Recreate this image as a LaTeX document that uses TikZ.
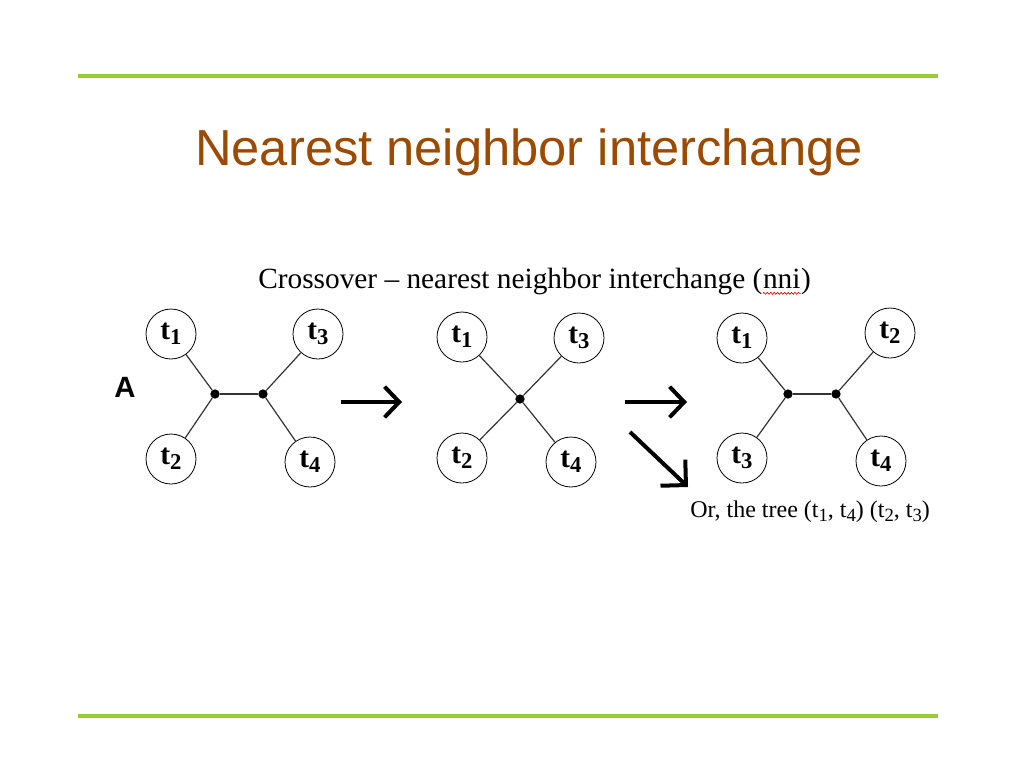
\documentclass[tikz,border=0pt]{standalone}
\usepackage{fontspec}
\setmainfont{Liberation Serif}
\newfontfamily\arialfont{Liberation Sans}
\usepackage{tikz}
\usetikzlibrary{arrows.meta,decorations.pathmorphing}
\definecolor{slidegreen}{HTML}{99CC33}
\definecolor{slidebrown}{HTML}{9C4A00}
\newcommand\tlab[1]{\textbf{t\raisebox{-0.18em}{\fontsize{17}{17}\selectfont #1}}}
\newcommand\tsub[1]{\raisebox{-0.2em}{\fontsize{14}{14}\selectfont #1}}

\tikzset{
  leaf/.style={draw, circle, minimum size=37.5pt, inner sep=0pt,
    line width=0.6pt, font=\fontsize{22}{22}\selectfont},
  joint/.style={circle, fill=black, minimum size=7pt, inner sep=0pt},
  branch/.style={line width=0.9pt, black!80},
  bigarrow/.style={line width=3pt, -{Straight Barb[length=11pt, width=23pt]}},
  downarrow/.style={line width=3pt, -{Straight Barb[length=13.5pt, width=27pt]}},
  rule/.style={slidegreen, line width=2.4pt},
}

\begin{document}
\begin{tikzpicture}[x=0.75pt, y=-0.75pt]
  \useasboundingbox (0,0) rectangle (1024,768);
  \draw[rule] (78,76) -- (938,76);
  \draw[rule] (78,716) -- (938,716);
  \node[anchor=base, text=slidebrown, font=\arialfont\fontsize{38}{38}\selectfont]
    (title) at (529,165) {Nearest neighbor interchange};

  % heading with the spell-check mark
  \node[anchor=base west, inner sep=0pt, font=\fontsize{22}{22}\selectfont]
    (head) at (258,288) {Crossover -- nearest neighbor interchange (};
  \node[anchor=base west, inner sep=0pt, font=\fontsize{22}{22}\selectfont]
    (nni) at (head.base east) {nni};
  \node[anchor=base west, inner sep=0pt, font=\fontsize{22}{22}\selectfont]
    (headend) at (nni.base east) {)};
  \draw[red, line width=0.5pt, decorate, decoration={snake, amplitude=0.7pt, segment length=2.6pt}]
    ([yshift=-4pt]nni.base west) -- ([yshift=-4pt]nni.base east);

  \node[font=\arialfont\bfseries\fontsize{22}{22}\selectfont] (lblA) at (125,387) {A};

  % tree A
  \node[leaf] (a1) at (171,334) {\tlab1};
  \node[leaf] (a2) at (171,459) {\tlab2};
  \node[leaf] (a3) at (318,334) {\tlab3};
  \node[leaf] (a4) at (310,462) {\tlab4};
  \node[joint] (ja) at (215,394) {};
  \node[joint] (jb) at (263,394) {};
  \draw[branch] (a1) -- (ja) -- (a2);
  \draw[branch] (ja) -- (jb);
  \draw[branch] (a3) -- (jb) -- (a4);

  % tree B
  \node[leaf] (b1) at (462,337) {\tlab1};
  \node[leaf] (b2) at (462,458) {\tlab2};
  \node[leaf] (b3) at (579,338) {\tlab3};
  \node[leaf] (b4) at (571,462) {\tlab4};
  \node[joint] (jc) at (520,399) {};
  \draw[branch] (b1) -- (jc) -- (b4);
  \draw[branch] (b2) -- (jc) -- (b3);

  % tree C
  \node[leaf] (c1) at (742,338) {\tlab1};
  \node[leaf] (c2) at (890,333) {\tlab2};
  \node[leaf] (c3) at (742,458) {\tlab3};
  \node[leaf] (c4) at (881,461) {\tlab4};
  \node[joint] (jd) at (788,394) {};
  \node[joint] (je) at (836,394) {};
  \draw[branch] (c1) -- (jd) -- (c3);
  \draw[branch] (jd) -- (je);
  \draw[branch] (c2) -- (je) -- (c4);

  % arrows
  \coordinate (arA) at (341,402);
  \coordinate (arB) at (402,402);
  \coordinate (arC) at (625,402);
  \coordinate (arD) at (687,402);
  \coordinate (arE) at (630,432);
  \coordinate (arF) at (688,487);
  \draw[bigarrow] (arA) -- (arB);
  \draw[bigarrow] (arC) -- (arD);
  \draw[downarrow] (arE) -- (arF);

  \node[anchor=base west, inner sep=0pt, font=\fontsize{18}{18}\selectfont]
    (note) at (690,517) {Or, the tree (t\tsub1, t\tsub4) (t\tsub2, t\tsub3)};
\end{tikzpicture}
\end{document}
